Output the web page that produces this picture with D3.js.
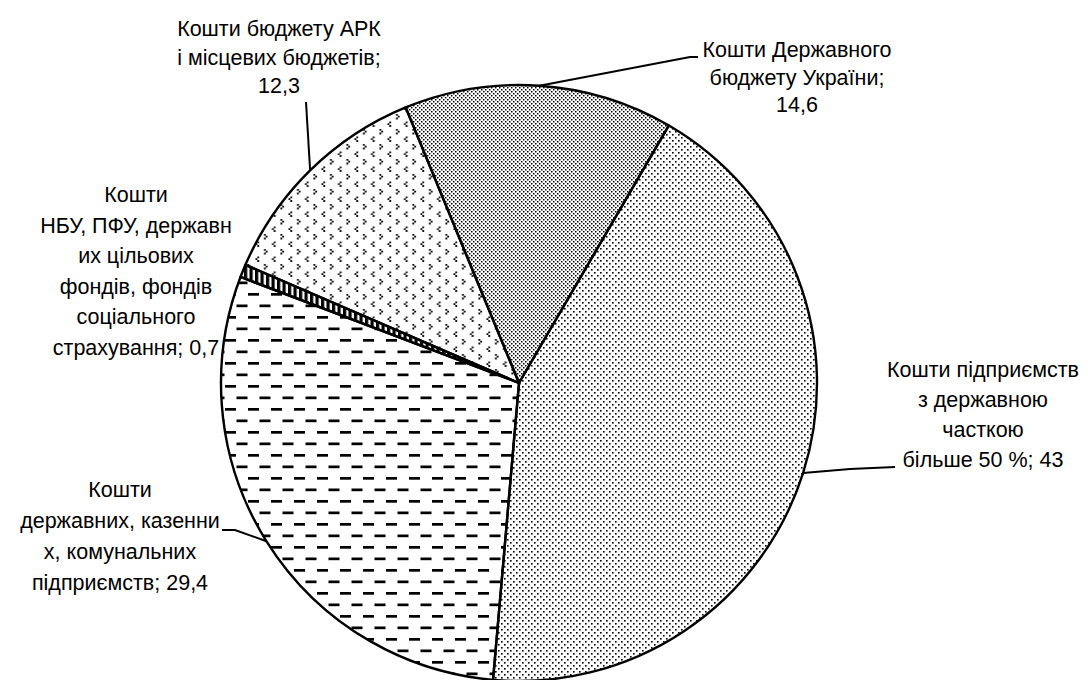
<!DOCTYPE html>
<html>
<head>
<meta charset="utf-8">
<script src="https://cdn.jsdelivr.net/npm/d3@7"></script>
<style>
  body { margin: 0; background: #fff; }
  text { font-family: "Liberation Sans", Arial, sans-serif; font-size: 21.5px; fill: #000; }
</style>
</head>
<body>
<div id="chart"></div>
<script>
// shares of funding sources, %, clockwise from the 43 slice
const sources = ["pidpryiemstv", "derzh_kazenni", "nbu_pfu", "ark", "derzh_budget"];
const shares = [43, 29.4, 0.7, 12.3, 14.6];
const labelLines = [
  ["Кошти підприємств", "з державною", "часткою", "більше 50 %; 43"],
  ["Кошти", "державних, казенни", "х, комунальних", "підприємств; 29,4"],
  ["Кошти", "НБУ, ПФУ, державн", "их цільових", "фондів, фондів", "соціального", "страхування; 0,7"],
  ["Кошти бюджету АРК", "і місцевих бюджетів;", "12,3"],
  ["Кошти Державного", "бюджету України;", "14,6"]
];

(function() {
  const width = 1088, height = 680;
  const cx = 519, cy = 383, r = 298;

  // label layout: centre x, first baseline, line step, leader bend points
  const labelPos = [
    { x: 983, y: 377, step: 30, leader: [[850, 469], [895, 467]] },
    { x: 120, y: 497, step: 31, leader: [[235, 530], [222, 530]] },
    { x: 136, y: 202, step: 30.5, leader: null },
    { x: 279, y: 36, step: 28.5, leader: [[306, 102]] },
    { x: 797, y: 57, step: 27.5, leader: [[690, 57], [698, 57]] }
  ];

  const svg = d3.select("#chart").append("svg")
    .attr("width", width)
    .attr("height", height);

  const defs = svg.append("defs");

  // 43: fine staggered dots
  const p0 = defs.append("pattern").attr("id", "pat0")
    .attr("patternUnits", "userSpaceOnUse").attr("width", 6).attr("height", 6);
  p0.append("rect").attr("x", 0).attr("y", 0).attr("width", 1.6).attr("height", 1.6);
  p0.append("rect").attr("x", 3).attr("y", 3).attr("width", 1.6).attr("height", 1.6);

  // 29.4: staggered horizontal dashes
  const p1 = defs.append("pattern").attr("id", "pat1")
    .attr("patternUnits", "userSpaceOnUse").attr("width", 23).attr("height", 23)
    .attr("x", 5).attr("y", 2);
  p1.append("rect").attr("x", 0).attr("y", 0).attr("width", 11).attr("height", 2.7);
  p1.append("rect").attr("x", 11.5).attr("y", 11.5).attr("width", 11).attr("height", 2.7);

  // 0.7: thick vertical bars
  const p2 = defs.append("pattern").attr("id", "pat2")
    .attr("patternUnits", "userSpaceOnUse").attr("width", 5.5).attr("height", 5.5);
  p2.append("rect").attr("x", 0).attr("y", 0).attr("width", 3.2).attr("height", 5.5);

  // 12.3: sparse chevrons
  const p3 = defs.append("pattern").attr("id", "pat3")
    .attr("patternUnits", "userSpaceOnUse").attr("width", 16.5).attr("height", 15);
  p3.append("path").attr("d", "M9,1h1.8v1.8h-1.8z M10.8,2.8h1.8v1.8h-1.8z M9,4.6h1.8v1.8h-1.8z");
  p3.append("path").attr("d", "M2.3,8.5h1.8v1.8h-1.8z M0.5,10.3h1.8v1.8h-1.8z M2.3,12.1h1.8v1.8h-1.8z");

  // 14.6: dense dotted diagonal lines
  const p4 = defs.append("pattern").attr("id", "pat4")
    .attr("patternUnits", "userSpaceOnUse").attr("width", 4).attr("height", 4);
  p4.append("rect").attr("x", 0).attr("y", 0).attr("width", 1.5).attr("height", 1.5);
  p4.append("rect").attr("x", 2).attr("y", 2).attr("width", 1.5).attr("height", 1.5);

  const start = 30.2 * Math.PI / 180;
  const pie = d3.pie().sort(null)
    .startAngle(start).endAngle(start + 2 * Math.PI);
  const arcs = pie(shares);
  const arc = d3.arc().innerRadius(0).outerRadius(r);

  const g = svg.append("g").attr("transform", `translate(${cx},${cy})`);

  g.selectAll("path.slice")
    .data(arcs)
    .enter().append("path")
      .attr("class", "slice")
      .attr("d", arc)
      .attr("fill", (d, i) => `url(#pat${i})`)
      .attr("stroke", "#000")
      .attr("stroke-width", 2.4)
      .attr("stroke-linejoin", "round");

  // leader lines from the slice edge
  arcs.forEach((d, i) => {
    const pos = labelPos[i];
    if (!pos.leader) return;
    const mid = (d.startAngle + d.endAngle) / 2;
    const edge = [cx + r * Math.sin(mid), cy - r * Math.cos(mid)];
    svg.append("path")
      .attr("d", d3.line()([edge, ...pos.leader]))
      .attr("fill", "none")
      .attr("stroke", "#000")
      .attr("stroke-width", 2);
  });

  labelLines.forEach((lines, i) => {
    const pos = labelPos[i];
    const t = svg.append("text").attr("text-anchor", "middle");
    lines.forEach((s, j) => {
      t.append("tspan")
        .attr("x", pos.x)
        .attr("y", pos.y + j * pos.step)
        .text(s);
    });
  });
})();
</script>
</body>
</html>
